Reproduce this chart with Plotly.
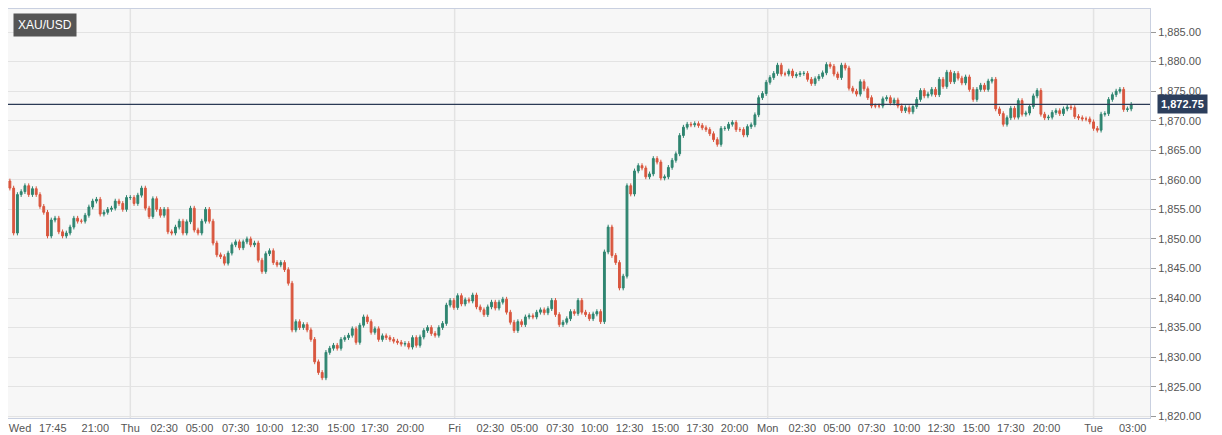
import plotly.graph_objects as go

# closing prices of each candle (left to right)
closes_wed = [1858.6, 1851, 1857.5, 1858, 1859, 1857.5, 1858.5, 1857.5, 1855.5, 1854.5, 1850.5, 1853.2, 1853.5,
              1851.2, 1850.5, 1851, 1852, 1853.5, 1853, 1853, 1854, 1855.4, 1856.4, 1856.7, 1854.2, 1854.5, 1855,
              1855.2, 1856.4, 1856, 1855, 1857, 1857, 1856, 1857.4, 1858.6, 1855.2, 1853.8, 1856.8, 1855, 1854,
              1855, 1851.2, 1851, 1852, 1853, 1851, 1852.9, 1855.2, 1851.5, 1851, 1853, 1855, 1853, 1849.3, 1847.3,
              1847, 1845.9, 1847.6, 1849, 1849.5, 1848.5, 1849.5, 1850, 1849, 1849.3, 1846.4, 1844.5, 1847.5, 1848,
              1846, 1845.6, 1846, 1844.8]
closes_thu = [1842.5, 1834.6, 1836, 1835, 1835.5, 1834.6, 1833, 1829.2, 1827.4, 1826.5, 1830.8, 1831.5, 1832,
              1831.5, 1833, 1833.3, 1833.7, 1834.8, 1832.5, 1835.4, 1836.8, 1836, 1834.2, 1834.8, 1833, 1833.6,
              1833.3, 1833, 1832.7, 1832.5, 1832.2, 1832.3, 1831.7, 1833.3, 1832, 1833.4, 1834.5, 1835, 1834,
              1833.7, 1835, 1835.7, 1838.8, 1839.6, 1838.4, 1840.4, 1839, 1839.7, 1839.5, 1840.5, 1838.5, 1838,
              1837.2, 1838.5, 1839.3, 1838.3, 1839.3, 1839.8, 1837.6, 1835.9, 1834.5, 1836, 1835.5, 1836.8, 1837,
              1836.8, 1837.6, 1838, 1837.5, 1838.2, 1839.6, 1837.2, 1835.5, 1835.9, 1836.5, 1837.7, 1837.4, 1839.6,
              1837.6, 1837.2, 1836.5, 1837.3, 1837.7, 1836]
closes_fri = [1847.8, 1852, 1847.2, 1846, 1841.7, 1843.7, 1859, 1857.6, 1861.5, 1862.4, 1862, 1860.5, 1861,
              1863.6, 1863, 1860.3, 1860.5, 1862.1, 1863.3, 1864.4, 1867.5, 1868.9, 1869.4, 1869.3, 1869.5, 1869.2,
              1868.8, 1868.5, 1867.8, 1866.8, 1866, 1868.7, 1868.7, 1869.4, 1869.7, 1868.5, 1868.5, 1867.6, 1869,
              1869.3, 1871, 1873.9, 1874.6, 1876.5, 1877.3, 1878, 1879.4, 1877.9, 1877.9, 1878.4, 1877.6, 1877.8,
              1878, 1878, 1877, 1876.3, 1877.1, 1877.5, 1878.1, 1879.5, 1879.2, 1877.9, 1877.3, 1879.4, 1878.9,
              1875.5, 1875, 1874.5, 1876.6, 1875.4, 1873.9, 1872.5, 1872.5, 1872.5, 1873.7]
closes_mon = [1873.9, 1873, 1873.5, 1872.5, 1871.7, 1872.2, 1871.5, 1872.4, 1873.6, 1875.1, 1874.2, 1874.5,
              1875.3, 1874.4, 1877, 1875.8, 1878.2, 1876.6, 1878, 1877.2, 1876.4, 1877.4, 1875.3, 1873.6, 1875.3,
              1876, 1875.3, 1876.7, 1877, 1872, 1871.2, 1869.4, 1870.5, 1872.1, 1870.6, 1873.4, 1871.1, 1871.3,
              1872.4, 1874.2, 1875.1, 1871.1, 1870.5, 1870.6, 1871.4, 1871.7, 1871.2, 1872, 1872.3, 1872.2, 1870.7,
              1870.5, 1870.3, 1870.3, 1869.8, 1868.7, 1868.4, 1871.1, 1871.2, 1873.6, 1874.4, 1875, 1875.3, 1871.9,
              1872, 1872.75]

tick_idx = [2.7, 11.4, 22.7, 32, 41, 50.4, 60, 69, 78.4, 88, 97, 106.4, 118.2, 127.7, 136.7, 146.2, 155.4,
            164.7, 174.2, 183.4, 192.6, 201.4, 210.6, 219.8, 229, 238.3, 247.5, 256.8, 266, 275.5, 288, 298.4]
tick_text = ['Wed', '17:45', '21:00', 'Thu', '02:30', '05:00', '07:30', '10:00', '12:30', '15:00', '17:30',
             '20:00', 'Fri', '02:30', '05:00', '07:30', '10:00', '12:30', '15:00', '17:30', '20:00', 'Mon',
             '02:30', '05:00', '07:30', '10:00', '12:30', '15:00', '17:30', '20:00', 'Tue', '03:00']
day_breaks = ['Thu', 'Fri', 'Mon', 'Tue']
last_price = 1872.75

closes = closes_wed + closes_thu + closes_fri + closes_mon
opens = [1859.8] + closes[:-1]
highs = [max(o, c) + 0.4 for o, c in zip(opens, closes)]
lows = [min(o, c) - 0.4 for o, c in zip(opens, closes)]
x = list(range(len(closes)))

fig = go.Figure()
fig.add_trace(go.Candlestick(
    x=x, open=opens, high=highs, low=lows, close=closes,
    increasing=dict(line=dict(color='#2f8570', width=1), fillcolor='#2f8570'),
    decreasing=dict(line=dict(color='#d9573f', width=1), fillcolor='#d9573f'),
    whiskerwidth=0, showlegend=False, hoverinfo='skip'
))

for t, lab in zip(tick_idx, tick_text):
    if lab in day_breaks:
        fig.add_vline(x=t, line=dict(color='#e3e3e3', width=1.5), layer='below')

fig.add_hline(y=last_price, line=dict(color='#2b3a55', width=1.2))

fig.add_annotation(x=1, xref='paper', xanchor='left', y=last_price, yref='y',
                   text='<b>1,872.75</b>', showarrow=False, bgcolor='#2c3e5c',
                   font=dict(color='white', size=11, family='Arial'), borderpad=3, xshift=7)
fig.add_annotation(x=0.004, xref='paper', y=0.99, yref='paper', xanchor='left', yanchor='top',
                   text='XAU/USD', showarrow=False, bgcolor='#555555',
                   font=dict(color='white', size=12, family='Arial'), borderpad=4)

fig.update_layout(
    width=1222, height=435,
    margin=dict(l=0, r=80, t=1, b=25),
    paper_bgcolor='white', plot_bgcolor='#f7f7f7',
    font=dict(family='Arial, Liberation Sans', size=11, color='#555555'),
    xaxis=dict(rangeslider=dict(visible=False), range=[-0.5, 303], tickvals=tick_idx, ticktext=tick_text,
               showgrid=False, zeroline=False, ticks='', tickfont=dict(size=11),
               showline=True, linecolor='#c9d0e0', mirror=True),
    yaxis=dict(side='right', range=[1819.7, 1888.9], dtick=5, tickformat=',.2f',
               gridcolor='#e3e3e3', gridwidth=1.2, ticks='outside', ticklen=5, tickcolor='#999999',
               showline=True, linecolor='#c9d0e0', mirror=True, zeroline=False),
)

fig.write_html("out.html")
